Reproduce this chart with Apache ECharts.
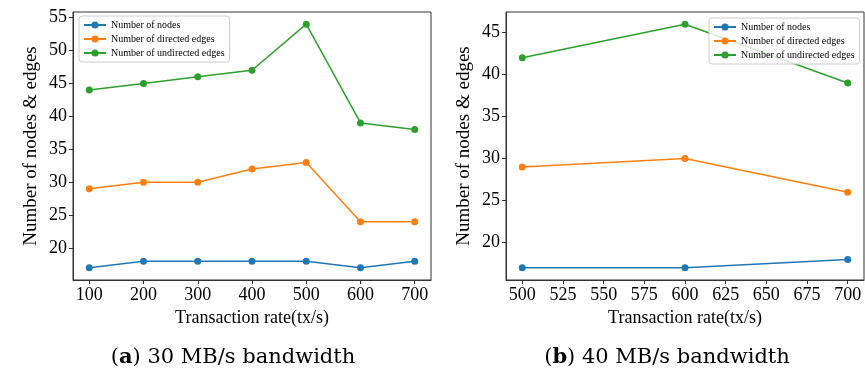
<!DOCTYPE html>
<html>
<head>
<meta charset="utf-8">
<script src="https://cdn.jsdelivr.net/npm/echarts@6/dist/echarts.min.js"></script>
<style>
html,body{margin:0;padding:0;background:#fff;}
#chart{width:865px;height:374px;}
</style>
</head>
<body>
<div id="chart"></div>
<script>
// ---- Data ----
const seriesNames = ['Number of nodes', 'Number of directed edges', 'Number of undirected edges'];
const colors = ['#1f77b4', '#ff7f0e', '#2ca02c'];

// (a) 30 MB/s bandwidth
const ratesA = [100, 200, 300, 400, 500, 600, 700];
const nodesA = [17, 18, 18, 18, 18, 17, 18];
const directedA = [29, 30, 30, 32, 33, 24, 24];
const undirectedA = [44, 45, 46, 47, 54, 39, 38];

// (b) 40 MB/s bandwidth
const ratesB = [500, 600, 700];
const nodesB = [17, 17, 18];
const directedB = [29, 30, 26];
const undirectedB = [42, 46, 39];

// tick labels
const xTicksA = [100, 200, 300, 400, 500, 600, 700];
const yTicksA = [20, 25, 30, 35, 40, 45, 50, 55];
const xTicksB = [500, 525, 550, 575, 600, 625, 650, 675, 700];
const yTicksB = [20, 25, 30, 35, 40, 45];

const captionA = '({b|a}) 30 MB/s bandwidth';
const captionB = '({b|b}) 40 MB/s bandwidth';
const xTitle = 'Transaction rate(tx/s)';
const yTitle = 'Number of nodes & edges';

// ---- Chart ----
const serif = 'Liberation Serif';
const frame = '#333';

function pairs(xs, ys) { return xs.map((x, i) => [x, ys[i]]); }

function xAxis(idx, min, max, ticks) {
  return {
    type: 'value', gridIndex: idx, min: min, max: max,
    name: xTitle, nameLocation: 'middle', nameGap: 27,
    nameTextStyle: { fontFamily: serif, fontSize: 18, color: '#000' },
    splitLine: { show: false },
    axisLine: { show: true, lineStyle: { color: frame, width: 1 } },
    axisTick: { show: true, length: 4, lineStyle: { color: frame }, customValues: ticks },
    axisLabel: { fontFamily: serif, fontSize: 18, color: '#000', margin: 6, customValues: ticks }
  };
}
function yAxis(idx, min, max, ticks) {
  return {
    type: 'value', gridIndex: idx, min: min, max: max,
    name: yTitle, nameLocation: 'middle', nameGap: 32, nameRotate: 90,
    nameTextStyle: { fontFamily: serif, fontSize: 19, color: '#000' },
    splitLine: { show: false },
    axisLine: { show: true, lineStyle: { color: frame, width: 1 } },
    axisTick: { show: true, length: 4, lineStyle: { color: frame }, customValues: ticks },
    axisLabel: { fontFamily: serif, fontSize: 18, color: '#000', margin: 6, customValues: ticks }
  };
}
function legend(left, top) {
  return {
    left: left, top: top, orient: 'vertical',
    data: seriesNames,
    padding: [3, 5, 3, 4],
    itemWidth: 22, itemHeight: 9, itemGap: 2,
    textStyle: { fontFamily: serif, fontSize: 10, color: '#000', lineHeight: 12 },
    backgroundColor: 'rgba(255,255,255,0.8)',
    borderColor: '#ccc', borderWidth: 1, borderRadius: 3,
    selectedMode: false
  };
}
function line(name, xs, ys, color, idx) {
  return {
    type: 'line', name: name, xAxisIndex: idx, yAxisIndex: idx,
    data: pairs(xs, ys), symbol: 'circle', symbolSize: 7,
    itemStyle: { color: color }, lineStyle: { color: color, width: 1.5 },
    animation: false, z: 3
  };
}

const capStyle = { fontFamily: 'DejaVu Serif', fontSize: 21, fontWeight: 'normal', color: '#000',
  rich: { b: { fontFamily: 'DejaVu Serif', fontSize: 21, fontWeight: 'bold', color: '#000' } } };

const chart = echarts.init(document.getElementById('chart'), null, { renderer: 'canvas' });
chart.setOption({
  backgroundColor: '#fff',
  animation: false,
  grid: [
    { left: 73, top: 12, width: 358, height: 268, show: true, borderColor: frame, borderWidth: 1, backgroundColor: 'transparent' },
    { left: 506, top: 12, width: 358, height: 268, show: true, borderColor: frame, borderWidth: 1, backgroundColor: 'transparent' }
  ],
  xAxis: [xAxis(0, 70, 730, xTicksA), xAxis(1, 490, 710, xTicksB)],
  yAxis: [yAxis(0, 15.15, 55.85, yTicksA), yAxis(1, 15.55, 47.45, yTicksB)],
  legend: [legend(79, 16), legend(709, 18)],
  title: [
    { text: captionA, left: 228, top: 342, textAlign: 'center', textStyle: capStyle },
    { text: captionB, left: 662, top: 342, textAlign: 'center', textStyle: capStyle }
  ],
  series: [
    line(seriesNames[0], ratesA, nodesA, colors[0], 0),
    line(seriesNames[1], ratesA, directedA, colors[1], 0),
    line(seriesNames[2], ratesA, undirectedA, colors[2], 0),
    line(seriesNames[0], ratesB, nodesB, colors[0], 1),
    line(seriesNames[1], ratesB, directedB, colors[1], 1),
    line(seriesNames[2], ratesB, undirectedB, colors[2], 1)
  ]
});
</script>
</body>
</html>
